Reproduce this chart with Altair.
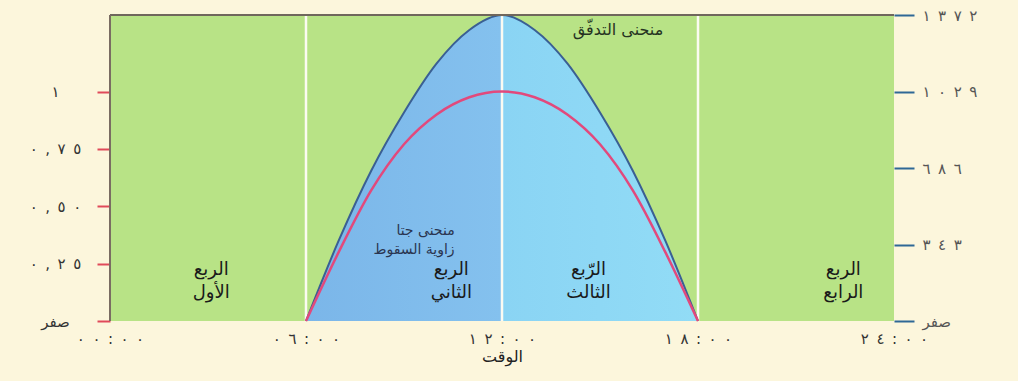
import altair as alt
import pandas as pd

# Hour of day and the two daytime curves (read hourly, sunrise to sunset)
hours = [6, 7, 8, 9, 10, 11, 12, 13, 14, 15, 16, 17, 18]
flux = [0, 360, 675, 935, 1155, 1305, 1372, 1305, 1155, 935, 675, 360, 0]
cos_incidence = [0, 0.30, 0.57, 0.77, 0.90, 0.975, 1.0, 0.975, 0.90, 0.77, 0.57, 0.30, 0]

# Axis ticks and their Arabic labels
time_ticks = [0, 6, 12, 18, 24]
time_labels = ["٠٠:٠٠", "٠٦:٠٠", "١٢:٠٠", "١٨:٠٠", "٢٤:٠٠"]
cos_ticks = [0, 0.25, 0.5, 0.75, 1]
cos_labels = ["صفر", "٠,٢٥", "٠,٥٠", "٠,٧٥", "١"]
flux_ticks = [0, 343, 686, 1029, 1372]
flux_labels = ["صفر", "٣٤٣", "٦٨٦", "١٠٢٩", "١٣٧٢"]
quarter_bounds = [6, 12, 18]

# Quarter names (two lines each) and curve captions, placed in data units
quarter_x = [3.1, 10.45, 14.65, 22.45]
quarter_top = ["الربع", "الربع", "الرّبع", "الربع"]
quarter_bottom = ["الأول", "الثاني", "الثالث", "الرابع"]
quarter_top_y = 0.222
quarter_bottom_y = 0.120

flux_caption = "منحنى التدفّق"
flux_caption_pos = (15.55, 1.27)
cos_caption = ["منحنى جتا", "زاوية السقوط"]
cos_caption_pos = (10.55, [0.392, 0.308])

COS_MAX = 4 / 3
FLUX_MAX = 1372
FONT = "DejaVu Sans"


def spaced(s):
    # widen the glyph spacing while keeping the digits in reading order
    if s == "صفر":
        return s
    return "\u200e\u2002\u200e".join(s)


def label_expr(values, labels):
    expr = "''"
    for v, lab in reversed(list(zip(values, labels))):
        expr = f"datum.value == {v} ? '{spaced(lab)}' : {expr}"
    return expr


curves = pd.DataFrame({"hour": hours, "flux": flux, "cos": cos_incidence})

x_scale = alt.Scale(domain=[0, 24], nice=False, zero=False)
cos_scale = alt.Scale(domain=[0, COS_MAX], nice=False)
flux_scale = alt.Scale(domain=[0, FLUX_MAX], nice=False)

# green background panel
panel = alt.Chart(pd.DataFrame({"x0": [time_ticks[0]], "x1": [time_ticks[-1]],
                                "y0": [0], "y1": [COS_MAX]})).mark_rect(
    color="#b8e386"
).encode(
    x=alt.X("x0:Q", scale=x_scale,
            axis=alt.Axis(values=time_ticks, labelExpr=label_expr(time_ticks, time_labels),
                          ticks=False, domain=False, grid=False, labelPadding=10,
                          labelFontSize=15, labelColor="#333333", labelFont=FONT,
                          labelFlush=False, labelBound=False, labelOverlap=False,
                          title="الوقت", titleFont=FONT, titleFontSize=16,
                          titleFontWeight="normal", titleColor="#222222",
                          titlePadding=2)),
    x2="x1:Q",
    y=alt.Y("y0:Q", scale=cos_scale, axis=None),
    y2="y1:Q",
)

# flux area, medium blue before noon and cyan after
area = alt.Chart(curves).mark_area(
    interpolate="monotone",
    color=alt.Gradient(
        gradient="linear",
        stops=[alt.GradientStop(color="#7bb6e9", offset=0),
               alt.GradientStop(color="#84c1ee", offset=0.5),
               alt.GradientStop(color="#8ad4f4", offset=0.5),
               alt.GradientStop(color="#92dcf6", offset=1)],
        x1=0, x2=1, y1=0, y2=0,
    ),
).encode(
    x=alt.X("hour:Q", scale=x_scale),
    y=alt.Y("flux:Q", scale=flux_scale, axis=None),
)

# quarter dividers
dividers = alt.Chart(pd.DataFrame({"hour": quarter_bounds})).mark_rule(
    color="#fbfbf2", strokeWidth=2.5
).encode(x=alt.X("hour:Q", scale=x_scale))

# flux curve outline with the right-hand axis
flux_line = alt.Chart(curves).mark_line(
    interpolate="monotone", color="#3a5f93", strokeWidth=2
).encode(
    x=alt.X("hour:Q", scale=x_scale),
    y=alt.Y("flux:Q", scale=flux_scale,
            axis=alt.Axis(orient="right", values=flux_ticks,
                          labelExpr=label_expr(flux_ticks, flux_labels),
                          tickColor="#2e6896", tickSize=20, tickWidth=2,
                          domain=False, grid=False, labelPadding=8,
                          labelAlign="left", labelBaseline="middle",
                          labelFontSize=15, labelColor="#555555", labelFont=FONT,
                          title=None)),
)

# cosine of incidence angle with the left-hand axis
cos_line = alt.Chart(curves).mark_line(
    interpolate="monotone", color="#e2497c", strokeWidth=2.5
).encode(
    x=alt.X("hour:Q", scale=x_scale),
    y=alt.Y("cos:Q", scale=cos_scale,
            axis=alt.Axis(orient="left", values=cos_ticks,
                          labelExpr=label_expr(cos_ticks, cos_labels),
                          tickColor="#e04a5a", tickSize=13, tickWidth=2,
                          domain=False, grid=False, labelPadding=42,
                          labelAlign="center", labelBaseline="middle",
                          labelFontSize=15, labelColor="#333333", labelFont=FONT,
                          title=None)),
)

# frame: top and left edges of the panel
frame_top = alt.Chart(pd.DataFrame({"x0": [0], "x1": [24], "y": [COS_MAX]})).mark_rule(
    color="#6f675c", strokeWidth=2
).encode(x=alt.X("x0:Q", scale=x_scale), x2="x1:Q",
         y=alt.Y("y:Q", scale=cos_scale, axis=None))
frame_left = alt.Chart(pd.DataFrame({"x": [0], "y0": [0], "y1": [COS_MAX]})).mark_rule(
    color="#7a6c62", strokeWidth=2
).encode(x=alt.X("x:Q", scale=x_scale),
         y=alt.Y("y0:Q", scale=cos_scale, axis=None), y2="y1:Q")

quarters = pd.DataFrame({
    "hour": quarter_x * 2,
    "v": [quarter_top_y] * 4 + [quarter_bottom_y] * 4,
    "text": quarter_top + quarter_bottom,
})
quarter_text = alt.Chart(quarters).mark_text(
    font=FONT, fontSize=18, color="#1a1a1a", align="center", baseline="middle"
).encode(
    x=alt.X("hour:Q", scale=x_scale),
    y=alt.Y("v:Q", scale=cos_scale, axis=None),
    text="text:N",
)

flux_text = alt.Chart(pd.DataFrame({"hour": [flux_caption_pos[0]], "v": [flux_caption_pos[1]],
                                    "text": [flux_caption]})).mark_text(
    font=FONT, fontSize=16, color="#263322", align="center", baseline="middle"
).encode(
    x=alt.X("hour:Q", scale=x_scale),
    y=alt.Y("v:Q", scale=cos_scale, axis=None),
    text="text:N",
)

cos_text = alt.Chart(pd.DataFrame({"hour": [cos_caption_pos[0]] * 2, "v": cos_caption_pos[1],
                                   "text": cos_caption})).mark_text(
    font=FONT, fontSize=14, color="#2a3550", align="right", baseline="middle"
).encode(
    x=alt.X("hour:Q", scale=x_scale),
    y=alt.Y("v:Q", scale=cos_scale, axis=None),
    text="text:N",
)

chart = alt.layer(
    panel, area, dividers, flux_line, cos_line, frame_top, frame_left,
    quarter_text, flux_text, cos_text,
).resolve_scale(y="independent").properties(
    width=784, height=306,
    autosize=alt.AutoSizeParams(type="none"),
    padding={"left": 110, "top": 15, "right": 124, "bottom": 60},
    background="#fcf6dc",
).configure_view(stroke=None)

chart.save("out.html", embed_options={"renderer": "svg", "actions": False})
